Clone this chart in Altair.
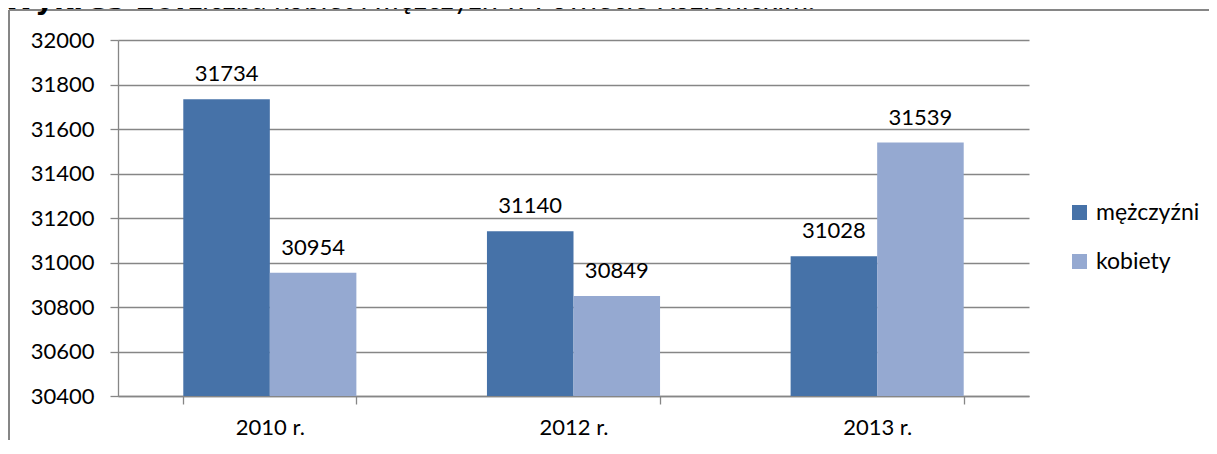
import altair as alt
import pandas as pd

years = ["2010 r.", "2012 r.", "2013 r."]
series = ["mężczyźni", "kobiety"]
men = [31734, 31140, 31028]
women = [30954, 30849, 31539]
colors = ["#4672A8", "#95A9D1"]
y_ticks = [30400, 30600, 30800, 31000, 31200, 31400, 31600, 31800, 32000]
title_bold = "Wykres 10."
title_rest = "Liczba kobiet i mężczyzn w Powiecie Kozienickim."

rows = []
for i, yr in enumerate(years):
    rows.append({"rok": yr, "płeć": series[0], "wartość": men[i]})
    rows.append({"rok": yr, "płeć": series[1], "wartość": women[i]})
df = pd.DataFrame(rows)

FONT = "Lato"
GRAY = "#868686"

x_enc = alt.X("rok:N", sort=years, title=None,
              scale=alt.Scale(paddingInner=0.43, paddingOuter=0.215),
              axis=alt.Axis(labelAngle=0, labelFont=FONT, labelFontSize=22,
                            labelColor="#000000", labelPadding=13,
                            domainColor=GRAY, domainWidth=1.3,
                            tickColor=GRAY, tickWidth=1.3, tickSize=8,
                            tickBand="extent", grid=False))
y_enc = alt.Y("wartość:Q", title=None,
              scale=alt.Scale(domain=[30400, 32000], zero=False, nice=False),
              axis=alt.Axis(values=y_ticks, format="d", labelFont=FONT,
                            labelFontSize=22, labelColor="#000000",
                            labelPadding=16, domainColor=GRAY, domainWidth=1.3,
                            tickColor=GRAY, tickWidth=1.3, tickSize=8,
                            grid=True, gridColor=GRAY, gridWidth=1.3))
off = alt.XOffset("płeć:N", sort=series)

bars = alt.Chart(df).mark_bar().encode(
    x=x_enc, xOffset=off, y=y_enc, y2=alt.datum(30400),
    color=alt.Color("płeć:N", sort=series,
                    scale=alt.Scale(domain=series, range=colors),
                    legend=alt.Legend(title=None, orient="none",
                                      legendX=950, legendY=161, padding=0,
                                      symbolType="square", symbolSize=225,
                                      symbolStrokeWidth=0,
                                      labelFont=FONT, labelFontSize=23,
                                      labelColor="#000000", labelOffset=5,
                                      rowPadding=25)),
)

labels = alt.Chart(df).mark_text(font=FONT, fontSize=22, color="#000000",
                                 baseline="alphabetic", dy=-18).encode(
    x=alt.X("rok:N", sort=years), xOffset=off, y="wartość:Q",
    text=alt.Text("wartość:Q", format="d"),
)

frame_top = alt.Chart(df).mark_rule(color=GRAY, strokeWidth=1.3).encode(
    x=alt.value(-109), x2=alt.value(1091), y=alt.value(-30)
)
frame_left = alt.Chart(df).mark_rule(color=GRAY, strokeWidth=1.3).encode(
    x=alt.value(-109), y=alt.value(-30), y2=alt.value(400)
)

t1 = alt.Chart(pd.DataFrame({"t": [title_bold]})).mark_text(
    font="DejaVu Sans", fontSize=29, fontWeight="bold", align="left",
    baseline="alphabetic", color="#000000").encode(
    x=alt.value(-115), y=alt.value(-31), text="t:N")
t2 = alt.Chart(pd.DataFrame({"t": [title_rest]})).mark_text(
    font="Lato", fontSize=29, align="left",
    baseline="alphabetic", color="#000000").encode(
    x=alt.value(69), y=alt.value(-31), text="t:N")

chart = alt.layer(frame_top, frame_left, bars, labels, t1, t2).properties(
    width=911, height=356,
    autosize=alt.AutoSizeParams(type="none"),
    padding={"left": 110, "top": 32, "right": 180, "bottom": 44},
).configure(background="#ffffff").configure_view(stroke=None)

chart.save("out.html", embed_options={"renderer": "svg", "actions": False})
